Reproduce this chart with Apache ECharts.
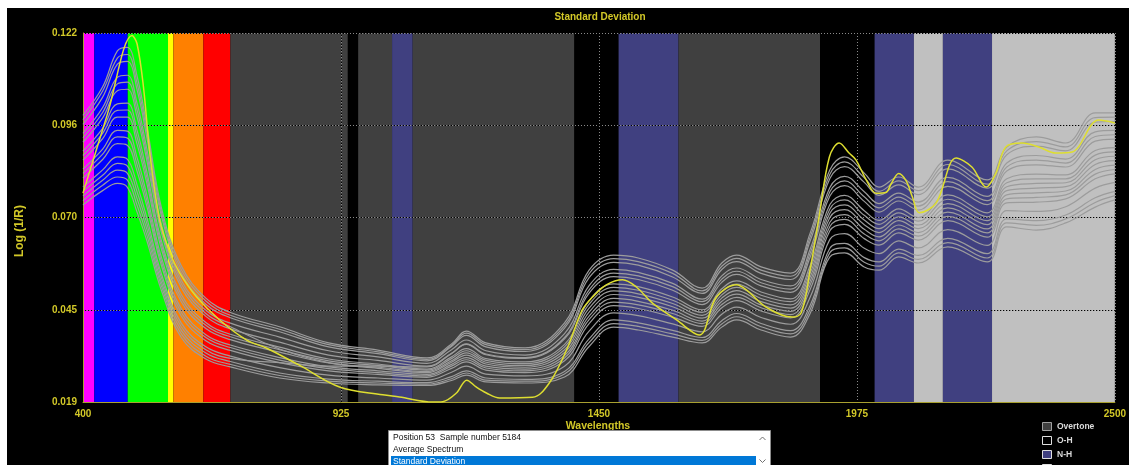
<!DOCTYPE html>
<html>
<head>
<meta charset="utf-8">
<script src="https://cdn.jsdelivr.net/npm/echarts@6/dist/echarts.min.js"></script>
<style>
  html, body { margin: 0; padding: 0; background: #fff; }
  #chart { width: 1129px; height: 465px; }
</style>
</head>
<body>
<div id="chart"></div>
<script>
// Axis ranges and tick labels
const xMin = 400, xMax = 2500, xStep = 525;
const yMin = 0.019, yMax = 0.122;
const yTickLabels = ['0.019', '0.045', '0.070', '0.096', '0.122'];

// Spectral regions behind the traces (nm)
const bandStarts = [400, 423, 491, 573, 584, 645, 700, 939, 960, 1029, 1071, 1400, 1490, 1612, 1900, 2011, 2091, 2150, 2250];
const bandEnds   = [423, 491, 573, 584, 645, 700, 939, 960, 1029, 1071, 1400, 1490, 1612, 1900, 2011, 2091, 2150, 2250, 2500];
const bandKinds  = ['violet', 'blue', 'green', 'yellow', 'orange', 'red', 'Overtone', 'O-H', 'Overtone', 'N-H', 'Overtone', 'O-H', 'N-H', 'Overtone', 'O-H', 'N-H', 'Combination', 'N-H', 'Combination'];

// Legend entries
const legendNames = ['Overtone', 'O-H', 'N-H'];

// List box rows
const listRows = ['Position 53  Sample number 5184', 'Average Spectrum', 'Standard Deviation'];

// Wavelengths shared by the sample spectra (nm)
const sampleWl = [400, 440, 470, 490, 510, 530, 560, 600, 650, 700, 800, 900, 1000, 1100, 1150, 1180, 1220, 1300, 1380, 1430, 1480, 1530, 1600, 1660, 1700, 1730, 1780, 1840, 1880, 1920, 1950, 1990, 2020, 2060, 2100, 2160, 2240, 2280, 2340, 2400, 2460, 2500];

// Sample spectra, log(1/R)
const sampleA = [0.0990, 0.1070, 0.1170, 0.1180, 0.1100, 0.0960, 0.0730, 0.0570, 0.0480, 0.0440, 0.0400, 0.0355, 0.0335, 0.0313, 0.0352, 0.0388, 0.0355, 0.0341, 0.0411, 0.0558, 0.0600, 0.0592, 0.0558, 0.0508, 0.0578, 0.0600, 0.0567, 0.0550, 0.0662, 0.0838, 0.0874, 0.0829, 0.0790, 0.0818, 0.0790, 0.0865, 0.0810, 0.0902, 0.0930, 0.0913, 0.0997, 0.0997];
const sampleA2 = [0.0978, 0.1058, 0.1150, 0.1160, 0.1080, 0.0944, 0.0718, 0.0560, 0.0472, 0.0432, 0.0393, 0.0350, 0.0330, 0.0309, 0.0348, 0.0382, 0.0350, 0.0336, 0.0403, 0.0548, 0.0590, 0.0582, 0.0549, 0.0500, 0.0569, 0.0591, 0.0558, 0.0541, 0.0651, 0.0826, 0.0860, 0.0816, 0.0778, 0.0807, 0.0780, 0.0853, 0.0798, 0.0891, 0.0917, 0.0902, 0.0984, 0.0985];
const sampleB = [0.0965, 0.1041, 0.1133, 0.1141, 0.1062, 0.0928, 0.0707, 0.0550, 0.0463, 0.0425, 0.0386, 0.0344, 0.0325, 0.0305, 0.0345, 0.0376, 0.0344, 0.0331, 0.0396, 0.0537, 0.0580, 0.0572, 0.0539, 0.0493, 0.0560, 0.0582, 0.0549, 0.0532, 0.0640, 0.0814, 0.0847, 0.0803, 0.0767, 0.0796, 0.0769, 0.0841, 0.0787, 0.0880, 0.0904, 0.0891, 0.0971, 0.0973];
const sampleC = [0.0940, 0.1012, 0.1096, 0.1102, 0.1024, 0.0896, 0.0684, 0.0530, 0.0446, 0.0410, 0.0371, 0.0333, 0.0316, 0.0298, 0.0336, 0.0363, 0.0333, 0.0321, 0.0381, 0.0515, 0.0560, 0.0552, 0.0521, 0.0477, 0.0542, 0.0564, 0.0532, 0.0514, 0.0617, 0.0789, 0.0820, 0.0777, 0.0744, 0.0773, 0.0748, 0.0817, 0.0764, 0.0857, 0.0878, 0.0868, 0.0944, 0.0948];
const sampleC2 = [0.0928, 0.0998, 0.1078, 0.1083, 0.1005, 0.0880, 0.0672, 0.0520, 0.0437, 0.0400, 0.0338, 0.0300, 0.0284, 0.0272, 0.0301, 0.0321, 0.0296, 0.0287, 0.0328, 0.0441, 0.0490, 0.0482, 0.0456, 0.0424, 0.0480, 0.0501, 0.0470, 0.0452, 0.0539, 0.0705, 0.0727, 0.0685, 0.0663, 0.0696, 0.0674, 0.0732, 0.0685, 0.0780, 0.0787, 0.0791, 0.0853, 0.0864];
const sampleD = [0.0915, 0.0983, 0.1059, 0.1063, 0.0986, 0.0864, 0.0661, 0.0510, 0.0429, 0.0394, 0.0357, 0.0321, 0.0306, 0.0290, 0.0326, 0.0351, 0.0322, 0.0312, 0.0366, 0.0494, 0.0540, 0.0532, 0.0502, 0.0462, 0.0524, 0.0546, 0.0514, 0.0496, 0.0595, 0.0765, 0.0794, 0.0750, 0.0720, 0.0751, 0.0726, 0.0792, 0.0741, 0.0835, 0.0852, 0.0846, 0.0918, 0.0924];
const sampleE = [0.0890, 0.0954, 0.1022, 0.1024, 0.0948, 0.0832, 0.0638, 0.0490, 0.0412, 0.0379, 0.0343, 0.0310, 0.0296, 0.0282, 0.0316, 0.0339, 0.0311, 0.0302, 0.0351, 0.0473, 0.0520, 0.0512, 0.0483, 0.0447, 0.0506, 0.0528, 0.0497, 0.0478, 0.0572, 0.0741, 0.0767, 0.0724, 0.0697, 0.0729, 0.0705, 0.0768, 0.0718, 0.0813, 0.0826, 0.0824, 0.0892, 0.0900];
const sampleE2 = [0.0878, 0.0940, 0.1004, 0.1005, 0.0929, 0.0816, 0.0627, 0.0480, 0.0404, 0.0372, 0.0336, 0.0305, 0.0292, 0.0279, 0.0311, 0.0333, 0.0306, 0.0297, 0.0344, 0.0463, 0.0510, 0.0502, 0.0474, 0.0440, 0.0498, 0.0519, 0.0488, 0.0470, 0.0561, 0.0729, 0.0754, 0.0711, 0.0686, 0.0718, 0.0695, 0.0756, 0.0707, 0.0802, 0.0813, 0.0813, 0.0879, 0.0888];
const sampleF = [0.0865, 0.0925, 0.0985, 0.0985, 0.0910, 0.0800, 0.0615, 0.0470, 0.0395, 0.0364, 0.0329, 0.0299, 0.0287, 0.0275, 0.0305, 0.0327, 0.0301, 0.0292, 0.0336, 0.0452, 0.0500, 0.0492, 0.0465, 0.0432, 0.0489, 0.0510, 0.0479, 0.0461, 0.0550, 0.0717, 0.0740, 0.0698, 0.0674, 0.0707, 0.0684, 0.0744, 0.0696, 0.0791, 0.0800, 0.0802, 0.0866, 0.0876];
const sampleG = [0.0840, 0.0896, 0.0948, 0.0946, 0.0872, 0.0768, 0.0592, 0.0450, 0.0378, 0.0349, 0.0314, 0.0288, 0.0277, 0.0267, 0.0295, 0.0314, 0.0290, 0.0282, 0.0320, 0.0430, 0.0479, 0.0471, 0.0446, 0.0416, 0.0471, 0.0491, 0.0461, 0.0443, 0.0528, 0.0692, 0.0713, 0.0672, 0.0651, 0.0684, 0.0663, 0.0720, 0.0673, 0.0768, 0.0774, 0.0779, 0.0839, 0.0851];
const sampleG2 = [0.0828, 0.0882, 0.0930, 0.0927, 0.0853, 0.0752, 0.0580, 0.0440, 0.0370, 0.0342, 0.0307, 0.0283, 0.0272, 0.0263, 0.0290, 0.0308, 0.0285, 0.0277, 0.0313, 0.0420, 0.0469, 0.0461, 0.0437, 0.0409, 0.0462, 0.0482, 0.0453, 0.0434, 0.0517, 0.0680, 0.0700, 0.0659, 0.0640, 0.0673, 0.0653, 0.0708, 0.0662, 0.0757, 0.0761, 0.0768, 0.0826, 0.0839];
const sampleH = [0.0815, 0.0867, 0.0911, 0.0907, 0.0834, 0.0736, 0.0569, 0.0430, 0.0361, 0.0334, 0.0300, 0.0277, 0.0267, 0.0259, 0.0284, 0.0302, 0.0279, 0.0272, 0.0305, 0.0409, 0.0459, 0.0451, 0.0427, 0.0401, 0.0453, 0.0473, 0.0444, 0.0425, 0.0505, 0.0668, 0.0686, 0.0646, 0.0628, 0.0662, 0.0642, 0.0696, 0.0650, 0.0746, 0.0748, 0.0757, 0.0813, 0.0827];
const sampleI = [0.0790, 0.0838, 0.0874, 0.0868, 0.0796, 0.0704, 0.0546, 0.0410, 0.0344, 0.0318, 0.0286, 0.0265, 0.0257, 0.0251, 0.0273, 0.0290, 0.0268, 0.0263, 0.0290, 0.0388, 0.0439, 0.0431, 0.0408, 0.0386, 0.0435, 0.0455, 0.0426, 0.0407, 0.0483, 0.0644, 0.0660, 0.0619, 0.0604, 0.0640, 0.0620, 0.0671, 0.0627, 0.0724, 0.0722, 0.0735, 0.0787, 0.0803];
const sampleI2 = [0.0778, 0.0823, 0.0856, 0.0849, 0.0777, 0.0688, 0.0535, 0.0400, 0.0336, 0.0312, 0.0300, 0.0290, 0.0290, 0.0288, 0.0325, 0.0352, 0.0324, 0.0314, 0.0370, 0.0503, 0.0550, 0.0542, 0.0512, 0.0470, 0.0533, 0.0555, 0.0523, 0.0505, 0.0606, 0.0777, 0.0807, 0.0763, 0.0732, 0.0762, 0.0737, 0.0805, 0.0752, 0.0846, 0.0865, 0.0857, 0.0931, 0.0936];
const sampleJ = [0.0765, 0.0809, 0.0837, 0.0829, 0.0758, 0.0672, 0.0523, 0.0390, 0.0327, 0.0303, 0.0271, 0.0254, 0.0248, 0.0244, 0.0261, 0.0277, 0.0257, 0.0253, 0.0275, 0.0366, 0.0419, 0.0411, 0.0390, 0.0370, 0.0417, 0.0437, 0.0409, 0.0389, 0.0460, 0.0619, 0.0633, 0.0593, 0.0581, 0.0617, 0.0599, 0.0647, 0.0604, 0.0701, 0.0696, 0.0712, 0.0760, 0.0778];
const sampleJ2 = [0.0752, 0.0795, 0.0818, 0.0810, 0.0739, 0.0656, 0.0512, 0.0380, 0.0318, 0.0295, 0.0264, 0.0248, 0.0243, 0.0240, 0.0255, 0.0271, 0.0251, 0.0248, 0.0268, 0.0356, 0.0409, 0.0401, 0.0380, 0.0362, 0.0408, 0.0428, 0.0400, 0.0380, 0.0449, 0.0607, 0.0620, 0.0580, 0.0569, 0.0606, 0.0588, 0.0635, 0.0592, 0.0690, 0.0683, 0.0701, 0.0747, 0.0766];
const sampleK = [0.0740, 0.0780, 0.0800, 0.0790, 0.0720, 0.0640, 0.0500, 0.0370, 0.0310, 0.0288, 0.0257, 0.0243, 0.0238, 0.0236, 0.0250, 0.0265, 0.0246, 0.0243, 0.0260, 0.0345, 0.0399, 0.0391, 0.0371, 0.0355, 0.0399, 0.0419, 0.0391, 0.0371, 0.0438, 0.0595, 0.0606, 0.0567, 0.0558, 0.0595, 0.0578, 0.0623, 0.0581, 0.0679, 0.0670, 0.0690, 0.0734, 0.0754];

// Highlighted trace
const traceWl  = [400, 450, 500, 510, 523, 536, 556, 577, 597, 631, 678, 733, 774, 841, 922, 1010, 1044, 1112, 1132, 1160, 1181, 1200, 1221, 1248, 1315, 1349, 1384, 1416, 1437, 1465, 1498, 1526, 1559, 1608, 1654, 1689, 1730, 1750, 1790, 1843, 1862, 1880, 1898, 1919, 1939, 1959, 1973, 1994, 2014, 2034, 2045, 2060, 2075, 2088, 2102, 2136, 2177, 2209, 2238, 2258, 2278, 2311, 2345, 2380, 2413, 2467, 2500];
const traceVal = [0.0773, 0.0995, 0.1213, 0.1190, 0.1070, 0.0885, 0.0698, 0.0606, 0.0550, 0.0484, 0.0419, 0.0363, 0.0340, 0.0292, 0.0232, 0.0210, 0.0204, 0.0190, 0.0191, 0.0215, 0.0251, 0.0232, 0.0215, 0.0201, 0.0203, 0.0243, 0.0335, 0.0447, 0.0483, 0.0517, 0.0531, 0.0511, 0.0466, 0.0419, 0.0377, 0.0483, 0.0517, 0.0503, 0.0455, 0.0427, 0.0440, 0.0560, 0.0707, 0.0874, 0.0913, 0.0885, 0.0866, 0.0810, 0.0773, 0.0775, 0.0800, 0.0828, 0.0808, 0.0762, 0.0718, 0.0745, 0.0871, 0.0846, 0.0790, 0.0829, 0.0902, 0.0913, 0.0902, 0.0885, 0.0888, 0.0977, 0.0969];

const samples = [sampleA, sampleA2, sampleB, sampleC, sampleC2, sampleD, sampleE, sampleE2, sampleF, sampleG, sampleG2, sampleH, sampleI, sampleI2, sampleJ, sampleJ2, sampleK];

const kindColors = {
  'violet': '#ff00ff', 'blue': '#0000ff', 'green': '#00ff00', 'yellow': '#ffff00',
  'orange': '#ff8000', 'red': '#ff0000', 'Overtone': '#404040', 'O-H': '#000000',
  'N-H': '#404080', 'Combination': '#c0c0c0'
};
const legendBorder = { 'Overtone': '#a0a0a0', 'O-H': '#e0e0e0', 'N-H': '#e0e0e0' };

const gold = '#d2c828';
const fontFamily = '"Liberation Sans", Arial, sans-serif';
const labelFont = { color: gold, fontSize: 10, fontWeight: 'bold', fontFamily: fontFamily };
const yStep = (yMax - yMin) / 4;

const chart = echarts.init(document.getElementById('chart'), null, { renderer: 'canvas' });

const bandSeries = {
  type: 'custom',
  silent: true,
  z: 1,
  encode: { x: [0, 1] },
  data: bandStarts.map((s, i) => [s, bandEnds[i]]),
  renderItem: function (params, api) {
    const p0 = api.coord([api.value(0), yMax]);
    const p1 = api.coord([api.value(1), yMin]);
    return {
      type: 'rect',
      shape: { x: p0[0], y: p0[1], width: p1[0] - p0[0], height: p1[1] - p0[1] },
      style: { fill: kindColors[bandKinds[params.dataIndex]] }
    };
  }
};

const sampleSeries = samples.map(arr => ({
  type: 'line',
  z: 4,
  silent: true,
  showSymbol: false,
  smooth: 0.4,
  data: sampleWl.map((w, i) => [w, arr[i]]),
  lineStyle: { color: '#9c9c9c', width: 1.2 }
}));

const traceSeries = {
  type: 'line',
  z: 5,
  silent: true,
  showSymbol: false,
  smooth: 0.35,
  data: traceWl.map((w, i) => [w, traceVal[i]]),
  lineStyle: { color: '#dede30', width: 1.5 }
};

const graphics = [
  { type: 'rect', silent: true, shape: { x: 0, y: 0, width: 1129, height: 8 }, style: { fill: '#ffffff' } },
  { type: 'rect', silent: true, shape: { x: 0, y: 0, width: 7, height: 465 }, style: { fill: '#ffffff' } },
  { type: 'text', x: 600, y: 17, style: { text: 'Standard Deviation', fill: gold, fontSize: 10, fontWeight: 'bold', fontFamily: fontFamily, align: 'center', verticalAlign: 'middle' } },
  { type: 'text', x: 20, y: 231, rotation: Math.PI / 2, style: { text: 'Log (1/R)', fill: gold, fontSize: 12, fontWeight: 'bold', fontFamily: fontFamily, align: 'center', verticalAlign: 'middle' } },
  { type: 'text', x: 598, y: 426, style: { text: 'Wavelengths', fill: gold, fontSize: 10.5, fontWeight: 'bold', fontFamily: fontFamily, align: 'center', verticalAlign: 'middle' } },
  // list box
  { type: 'rect', shape: { x: 388.5, y: 430.5, width: 382, height: 40 }, style: { fill: '#ffffff', stroke: '#8c8c8c', lineWidth: 1 } },
  { type: 'rect', shape: { x: 391, y: 456, width: 365, height: 12 }, style: { fill: '#0078d7' } },
  { type: 'polyline', shape: { points: [[759.5, 440], [762.5, 437], [765.5, 440]] }, style: { stroke: '#707070', lineWidth: 1, fill: null } },
  { type: 'polyline', shape: { points: [[759.5, 459.5], [762.5, 462.5], [765.5, 459.5]] }, style: { stroke: '#707070', lineWidth: 1, fill: null } }
];

listRows.forEach((t, i) => {
  graphics.push({
    type: 'text', x: 393, y: 438 + i * 11.6,
    style: { text: t, fill: i === 2 ? '#ffffff' : '#101010', fontSize: 8.5, fontFamily: fontFamily, align: 'left', verticalAlign: 'middle' }
  });
});

legendNames.forEach((name, i) => {
  const y = 422 + i * 14;
  graphics.push({ type: 'rect', shape: { x: 1042.5, y: y + 0.5, width: 9, height: 8 }, style: { fill: kindColors[name], stroke: legendBorder[name], lineWidth: 1 } });
  graphics.push({ type: 'text', x: 1057, y: y + 4.5, style: { text: name, fill: '#dcdcdc', fontSize: 8.5, fontWeight: 'bold', fontFamily: fontFamily, align: 'left', verticalAlign: 'middle' } });
});
graphics.push({ type: 'rect', shape: { x: 1042.5, y: 464.5, width: 9, height: 8 }, style: { fill: kindColors['Combination'], stroke: '#e0e0e0', lineWidth: 1 } });

const option = {
  backgroundColor: '#000000',
  animation: false,
  grid: { left: 83, right: 13, top: 33, bottom: 63, containLabel: false },
  xAxis: [
    {
      type: 'value', min: xMin, max: xMax, interval: xStep, z: 3,
      axisLine: { show: true, lineStyle: { color: '#a8a030', width: 1 } },
      axisTick: { show: false },
      axisLabel: Object.assign({ margin: 7, showMinLabel: true, showMaxLabel: true, formatter: v => String(v) }, labelFont),
      splitLine: { show: true, lineStyle: { color: '#8a8a8a', width: 1, type: [1, 2] } }
    },
    {
      type: 'value', min: xMin, max: xMax, interval: xStep, z: 3, position: 'top',
      axisLine: { show: false }, axisTick: { show: false }, axisLabel: { show: false },
      splitLine: { show: true, lineStyle: { color: '#000000', width: 1, type: [1, 2], dashOffset: 1 } }
    }
  ],
  yAxis: [
    {
      type: 'value', min: yMin, max: yMax, interval: yStep, z: 3,
      axisLine: { show: true, lineStyle: { color: '#a8a030', width: 1 } },
      axisTick: { show: false },
      axisLabel: Object.assign({
        margin: 6, showMinLabel: true, showMaxLabel: true,
        formatter: v => yTickLabels[Math.round((v - yMin) / yStep)]
      }, labelFont),
      splitLine: { show: true, lineStyle: { color: '#8a8a8a', width: 1, type: [1, 2] } }
    },
    {
      type: 'value', min: yMin, max: yMax, interval: yStep, z: 3, position: 'right',
      axisLine: { show: false }, axisTick: { show: false }, axisLabel: { show: false },
      splitLine: { show: true, lineStyle: { color: '#000000', width: 1, type: [1, 2], dashOffset: 1 } }
    }
  ],
  series: [bandSeries].concat(sampleSeries, [traceSeries]),
  graphic: graphics
};

chart.setOption(option);
</script>
</body>
</html>
